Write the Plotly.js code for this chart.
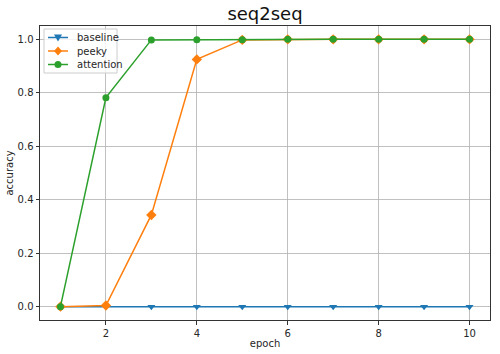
<!DOCTYPE html>
<html>
<head>
<meta charset="utf-8">
<script src="https://cdn.plot.ly/plotly-3.0.1.min.js"></script>
<style>html,body{margin:0;padding:0;background:#fff;}#chart{width:500px;height:354px;}</style>
</head>
<body>
<div id="chart"></div>
<script>
const epochs = [1, 2, 3, 4, 5, 6, 7, 8, 9, 10];
const baseline = [0, 0, 0, 0, 0, 0, 0, 0, 0, 0];
const peeky = [0, 0.004, 0.343, 0.925, 0.998, 1.0, 1.0, 1.0, 1.0, 1.0];
const attention = [0, 0.782, 0.998, 0.999, 0.999, 1.0, 1.0, 1.0, 1.0, 1.0];
const seriesNames = ['baseline', 'peeky', 'attention'];
const seriesColors = ['#1f77b4', '#ff7f0e', '#2ca02c'];
const seriesSymbols = ['triangle-down', 'diamond', 'circle'];

const W = 500, H = 354;
const M = {l: 40, r: 10, t: 26, b: 34};
const PW = W - M.l - M.r, PH = H - M.t - M.b;
// pixel -> paper helpers for the legend box
const px = v => (v - M.l) / PW;
const py = v => 1 - (v - M.t) / PH;

const font = {family: 'DejaVu Sans, sans-serif', size: 10, color: '#262626'};
const data = [baseline, peeky, attention];
const traces = data.map((ys, i) => ({
  x: epochs, y: ys, name: seriesNames[i], mode: 'lines+markers', showlegend: false,
  line: {color: seriesColors[i], width: 1.5},
  marker: {symbol: seriesSymbols[i], size: i === 1 ? 8 : 7, color: seriesColors[i]}
}));

// custom compact legend (matplotlib style)
const shapes = [{type: 'rect', xref: 'paper', yref: 'paper', x0: px(44), x1: px(117), y0: py(29), y1: py(73),
  line: {color: '#cccccc', width: 1}, fillcolor: 'rgba(255,255,255,0.8)', layer: 'above'}];
const annotations = [];
const rows = [37.5, 51, 64.5];
const glyph = (sym, cx, cy, c) => {
  if (sym === 'circle') return {type: 'circle', xref: 'paper', yref: 'paper', x0: px(cx - 3.5), x1: px(cx + 3.5),
    y0: py(cy + 3.5), y1: py(cy - 3.5), fillcolor: c, line: {color: c, width: 0}, layer: 'above'};
  let pts;
  if (sym === 'diamond') pts = [[cx, cy - 4.5], [cx + 4, cy], [cx, cy + 4.5], [cx - 4, cy]];
  else pts = [[cx - 4, cy - 3], [cx + 4, cy - 3], [cx, cy + 4]];
  const path = 'M' + pts.map(p => px(p[0]) + ',' + py(p[1])).join('L') + 'Z';
  return {type: 'path', xref: 'paper', yref: 'paper', path: path, fillcolor: c, line: {color: c, width: 0}, layer: 'above'};
};
seriesNames.forEach((n, i) => {
  const cy = rows[i];
  shapes.push({type: 'line', xref: 'paper', yref: 'paper', x0: px(48), x1: px(68), y0: py(cy), y1: py(cy),
    line: {color: seriesColors[i], width: 1.5}, layer: 'above'});
  shapes.push(glyph(seriesSymbols[i], 58, cy, seriesColors[i]));
  annotations.push({xref: 'paper', yref: 'paper', x: px(75), y: py(cy), xanchor: 'left', yanchor: 'middle',
    text: n, showarrow: false, font: font});
});

const axisCommon = {
  showline: true, mirror: true, linecolor: '#333', linewidth: 1,
  ticks: 'outside', ticklen: 3.5, tickcolor: '#333', tickwidth: 1,
  showgrid: true, gridcolor: '#b0b0b0', gridwidth: 0.8, zeroline: false,
  tickfont: font
};
const layout = {
  width: W, height: H,
  margin: M,
  paper_bgcolor: '#fff', plot_bgcolor: '#fff',
  font: font,
  showlegend: false,
  title: {text: 'seq2seq', font: {family: 'DejaVu Sans, sans-serif', size: 18, color: '#111'},
          x: 0.53, xanchor: 'center', y: 1 - 14/354, yref: 'container', yanchor: 'middle'},
  xaxis: Object.assign({}, axisCommon, {range: [0.55, 10.45], tickvals: [2, 4, 6, 8, 10],
          title: {text: 'epoch', font: font, standoff: 2}}),
  yaxis: Object.assign({}, axisCommon, {range: [-0.05, 1.05], tickvals: [0, 0.2, 0.4, 0.6, 0.8, 1.0],
          tickformat: '.1f', title: {text: 'accuracy', font: font, standoff: 2}}),
  shapes: shapes,
  annotations: annotations
};
Plotly.newPlot('chart', traces, layout, {displayModeBar: false, staticPlot: true});
</script>
</body>
</html>
